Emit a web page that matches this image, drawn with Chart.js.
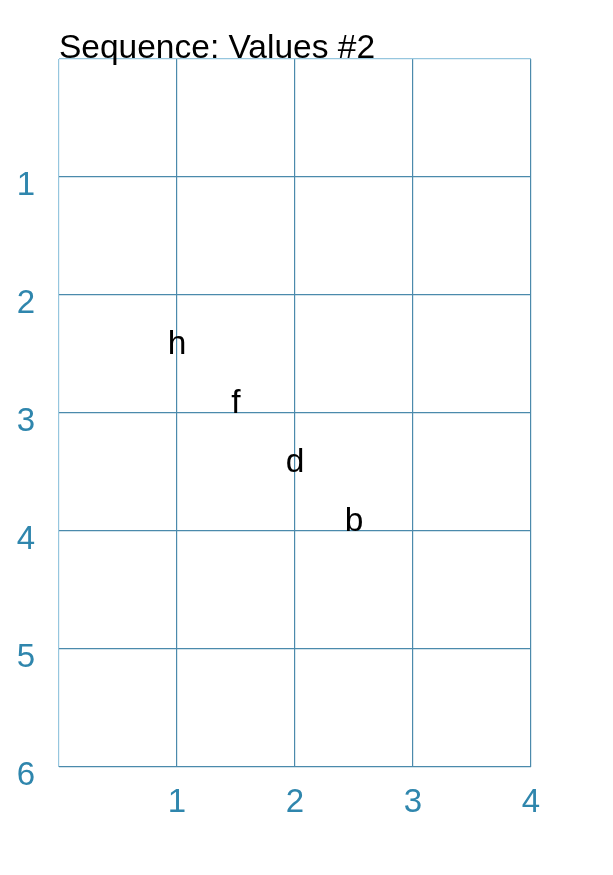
<!DOCTYPE html>
<html>
<head>
<meta charset="utf-8">
<script src="https://cdn.jsdelivr.net/npm/chart.js@4.4.1/dist/chart.umd.min.js"></script>
<style>
    html, body { margin: 0; padding: 0; background: #ffffff; }
    #wrap { width: 613px; height: 875px; position: relative; }
</style>
</head>
<body>
<div id="wrap"><canvas id="seqChart"></canvas></div>
<script>
// Chart data
const chartTitle = 'Sequence: Values #2';
const pointLabels = ['h', 'f', 'd', 'b'];
const xValues = [1, 1.5, 2, 2.5];
const yValues = [2.5, 3, 3.5, 4];
const xTicks = [0, 1, 2, 3, 4];
const yTicks = [0, 1, 2, 3, 4, 5, 6];

const FONT = '"Liberation Sans", Arial, Helvetica, sans-serif';
const TICK_COLOR = '#2f86ad';
const GRID_COLOR = 'rgb(75, 138, 172)';
const GRID_EDGE = 'rgb(150, 198, 222)';

// Draws the letters at each point and the title
const labelPlugin = {
    id: 'seqLabels',
    afterDatasetsDraw(chart) {
        const ctx = chart.ctx;
        const xs = chart.scales.x;
        const ys = chart.scales.y;
        ctx.save();
        ctx.fillStyle = '#000000';
        ctx.font = '33.5px ' + FONT;
        ctx.textAlign = 'center';
        ctx.textBaseline = 'alphabetic';
        pointLabels.forEach((txt, i) => {
            ctx.fillText(txt, xs.getPixelForValue(xValues[i]), ys.getPixelForValue(yValues[i]));
        });

        ctx.textAlign = 'left';
        ctx.fillText(chartTitle, chart.chartArea.left, chart.chartArea.top - 1);
        ctx.restore();
    }
};

const data = xValues.map((x, i) => ({ x: x, y: yValues[i] }));

const gridColors = ticks => ticks.map(v => (v === 0 ? GRID_EDGE : GRID_COLOR));

new Chart(document.getElementById('seqChart'), {
    type: 'scatter',
    data: {
        datasets: [{
            label: chartTitle,
            data: data,
            pointRadius: 0,
            pointHoverRadius: 0,
            showLine: false
        }]
    },
    options: {
        responsive: true,
        maintainAspectRatio: false,
        animation: false,
        layout: {
            padding: { top: 59, right: 82, left: 0, bottom: 0 }
        },
        plugins: {
            legend: { display: false },
            title: { display: false },
            tooltip: { enabled: false }
        },
        scales: {
            x: {
                type: 'linear',
                min: 0,
                max: 4,
                afterBuildTicks(scale) {
                    scale.ticks = xTicks.map(v => ({ value: v }));
                },
                afterFit(scale) {
                    scale.height = 108;
                },
                grid: {
                    color: gridColors(xTicks),
                    lineWidth: 1.2,
                    drawTicks: false
                },
                border: { display: false },
                ticks: {
                    color: TICK_COLOR,
                    font: { family: FONT, size: 33 },
                    padding: 16,
                    maxRotation: 0,
                    callback: v => (v === 0 ? '' : String(v))
                }
            },
            y: {
                type: 'linear',
                reverse: true,
                min: 0,
                max: 6,
                afterBuildTicks(scale) {
                    scale.ticks = yTicks.map(v => ({ value: v }));
                },
                afterFit(scale) {
                    scale.width = 59;
                },
                grid: {
                    color: gridColors(yTicks),
                    lineWidth: 1.2,
                    drawTicks: false
                },
                border: { display: false },
                ticks: {
                    color: TICK_COLOR,
                    font: { family: FONT, size: 33 },
                    padding: 24,
                    labelOffset: 9,
                    callback: v => (v === 0 ? '' : String(v))
                }
            }
        }
    },
    plugins: [labelPlugin]
});
</script>
</body>
</html>
